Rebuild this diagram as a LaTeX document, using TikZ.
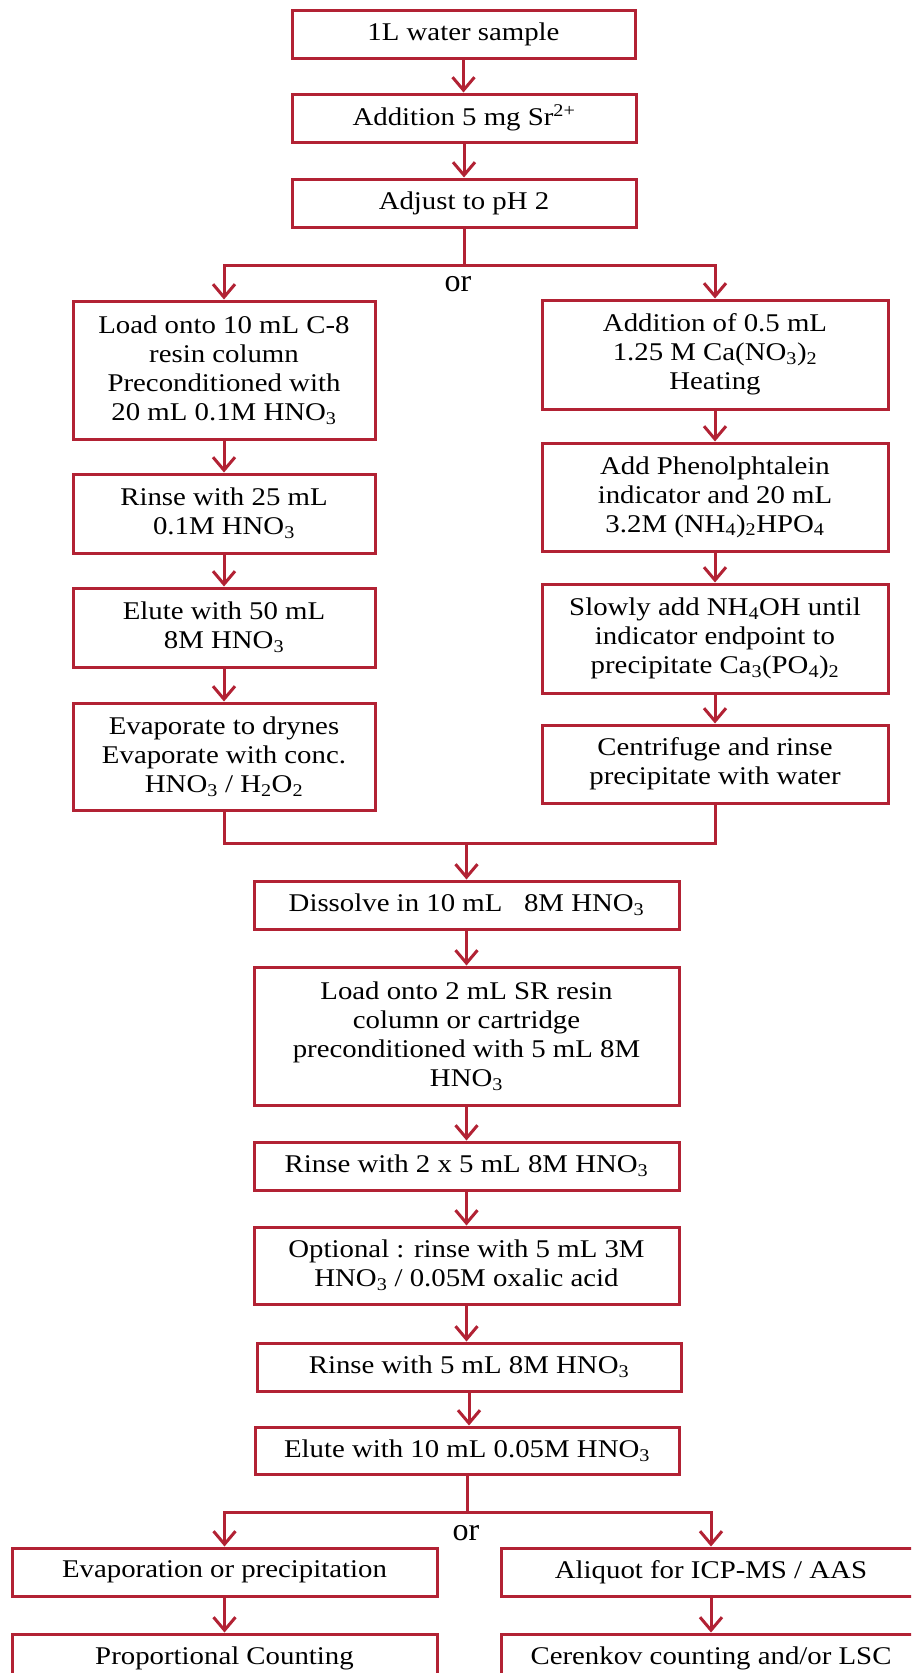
\documentclass[tikz,border=0pt]{standalone}
\usepackage{fontspec}
\setmainfont{Liberation Serif}[FakeStretch=1.13]
\newfontfamily\orfont{Liberation Serif}
\usetikzlibrary{arrows.meta}
\definecolor{fc}{RGB}{178,34,52}
\newcommand\sbs[1]{\textsubscript{#1}}
\begin{document}
\begin{tikzpicture}[x=1pt,y=-1pt,
  box/.style={draw=fc, line width=3pt, fill=white, align=center, inner sep=0pt,
    font=\fontsize{25.5}{29}\selectfont},
  arr/.style={draw=fc, line width=3pt, line join=miter, -{Straight Barb[length=13pt,width=22pt]}},
  ln/.style={draw=fc, line width=3pt, line join=miter},
  ortext/.style={font=\orfont\fontsize{32}{32}\selectfont, inner sep=0pt}]
\useasboundingbox (0,0) rectangle (911,1673);
\clip (0,0) rectangle (911,1673);
\fill[white] (0,0) rectangle (911,1673);

% top column
\node[box, minimum width=343pt, minimum height=48pt] (b1) at (463.5,34) {1L water sample};
\node[box, minimum width=344pt, minimum height=48pt] (b2) at (464,118) {Addition 5 mg Sr\textsuperscript{2+}};
\node[box, minimum width=344pt, minimum height=48pt] (b3) at (464,203) {Adjust to pH 2};

% left column
\node[box, minimum width=302pt, minimum height=138pt] (l1) at (224,370)
  {Load onto 10 mL C-8\\resin column\\Preconditioned with\\20 mL 0.1M HNO\sbs{3}};
\node[box, minimum width=302pt, minimum height=79pt] (l2) at (224,513.5)
  {Rinse with 25 mL\\0.1M HNO\sbs{3}};
\node[box, minimum width=302pt, minimum height=79pt] (l3) at (224,627.5)
  {Elute with 50 mL\\8M HNO\sbs{3}};
\node[box, minimum width=302pt, minimum height=107pt] (l4) at (224,756.5)
  {Evaporate to drynes\\Evaporate with conc.\\HNO\sbs{3} / H\sbs{2}O\sbs{2}};

% right column
\node[box, minimum width=346pt, minimum height=109pt] (r1) at (715,354.5)
  {Addition of 0.5 mL\\1.25 M Ca(NO\sbs{3})\sbs{2}\\Heating};
\node[box, minimum width=346pt, minimum height=108pt] (r2) at (715,497)
  {Add Phenolphtalein\\indicator and 20 mL\\3.2M (NH\sbs{4})\sbs{2}HPO\sbs{4}};
\node[box, minimum width=346pt, minimum height=109pt] (r3) at (715,638.5)
  {Slowly add NH\sbs{4}OH until\\indicator endpoint to\\precipitate Ca\sbs{3}(PO\sbs{4})\sbs{2}};
\node[box, minimum width=346pt, minimum height=78pt] (r4) at (715,764)
  {Centrifuge and rinse\\precipitate with water};

% centre column
\node[box, minimum width=425pt, minimum height=48pt] (c1) at (466.5,905)
  {Dissolve in 10 mL\ \ \ 8M HNO\sbs{3}};
\node[box, minimum width=425pt, minimum height=138pt] (c2) at (466.5,1036)
  {Load onto 2 mL SR resin\\column or cartridge\\preconditioned with 5 mL 8M\\HNO\sbs{3}};
\node[box, minimum width=425pt, minimum height=48pt] (c3) at (466.5,1166)
  {Rinse with 2 x 5 mL 8M HNO\sbs{3}};
\node[box, minimum width=425pt, minimum height=77pt] (c4) at (466.5,1265.5)
  {Optional : rinse with 5 mL 3M\\HNO\sbs{3} / 0.05M oxalic acid};
\node[box, minimum width=424pt, minimum height=48pt] (c5) at (469,1367)
  {Rinse with 5 mL 8M HNO\sbs{3}};
\node[box, minimum width=424pt, minimum height=47pt] (c6) at (467,1450.5)
  {Elute with 10 mL 0.05M HNO\sbs{3}};

% bottom
\node[box, minimum width=425pt, minimum height=48pt] (bl1) at (224.5,1572) {Evaporation or precipitation};
\node[box, minimum width=425pt, minimum height=48pt] (bl2) at (224.5,1658) {Proportional Counting};
\node[box, minimum width=420pt, minimum height=48pt] (br1) at (711,1572) {Aliquot for ICP-MS / AAS};
\node[box, minimum width=420pt, minimum height=48pt] (br2) at (711,1658) {Cerenkov counting and/or LSC};

% "or" labels
\node[ortext] (or1) at (458,284) {or};
\node[ortext] (or2) at (466,1533) {or};

% arrows top
\draw[arr] (b1.south) -- (b1.south |- b2.north);
\draw[arr] (b2.south) -- (b2.south |- b3.north);

% first split
\coordinate (sp1) at (464,265);
\draw[ln] (b3.south) -- (sp1);
\draw[arr] (sp1) -| (l1.north);
\draw[arr] (sp1) -| (r1.north);

% left chain
\draw[arr] (l1.south) -- (l2.north);
\draw[arr] (l2.south) -- (l3.north);
\draw[arr] (l3.south) -- (l4.north);
% right chain
\draw[arr] (r1.south) -- (r2.north);
\draw[arr] (r2.south) -- (r3.north);
\draw[arr] (r3.south) -- (r4.north);

% merge
\coordinate (mgy) at (0,843);
\coordinate (mg) at (c1.north |- mgy);
\draw[ln] (l4.south) |- (mg);
\draw[ln] (r4.south) |- (mg);
\draw[arr] (mg) -- (c1.north);

% centre chain
\draw[arr] (c1.south) -- (c1.south |- c2.north);
\draw[arr] (c2.south) -- (c2.south |- c3.north);
\draw[arr] (c3.south) -- (c3.south |- c4.north);
\draw[arr] (c4.south) -- (c4.south |- c5.north);
\draw[arr] (c5.south) -- (c5.south |- c6.north);

% second split
\coordinate (sp2y) at (0,1512);
\coordinate (sp2) at (c6.south |- sp2y);
\draw[ln] (c6.south) -- (sp2);
\draw[arr] (sp2) -| (bl1.north);
\draw[arr] (sp2) -| (br1.north);

\draw[arr] (bl1.south) -- (bl2.north);
\draw[arr] (br1.south) -- (br2.north);
\end{tikzpicture}
\end{document}
